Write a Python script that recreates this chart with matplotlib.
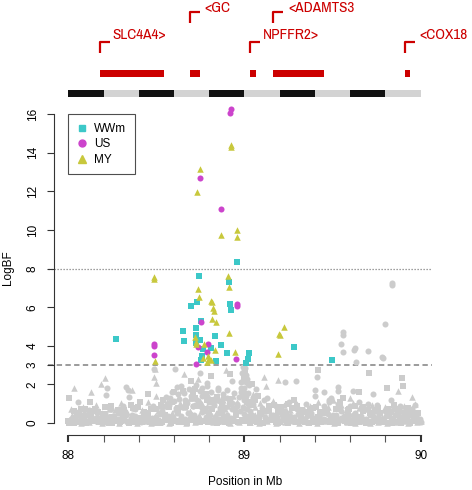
import matplotlib
matplotlib.use("Agg")
import matplotlib.pyplot as plt
from matplotlib.lines import Line2D
from matplotlib.ticker import MultipleLocator
from matplotlib import font_manager

plt.rcParams['font.family'] = ['Liberation Sans', 'DejaVu Sans']

# ---------------- data ----------------
# significant SNPs per population
wwm_x = [88.272, 88.653, 88.658, 88.696, 88.732, 88.725, 88.723, 88.751, 88.747, 88.766,
         88.751, 88.810, 88.833, 88.838, 88.865, 88.902, 88.914, 88.920, 88.923, 88.743,
         88.959, 89.009, 89.027, 89.022, 89.283, 89.495, 88.725, 88.760]
wwm_y = [4.34, 4.78, 4.26, 6.05, 6.29, 4.94, 4.56, 5.30, 4.28, 3.82,
         3.28, 3.86, 4.51, 3.21, 4.04, 3.64, 7.33, 6.15, 5.85, 7.63,
         8.33, 3.09, 3.64, 3.30, 3.95, 3.25, 4.12, 3.45]

us_x = [88.923, 88.919, 88.746, 88.867, 88.486, 88.486, 88.486, 88.727, 88.738, 88.753,
        88.791, 88.789, 88.950, 88.959, 88.960]
us_y = [16.28, 16.05, 12.68, 11.07, 4.08, 3.99, 3.54, 3.06, 3.95, 5.25,
        4.08, 3.70, 3.33, 6.17, 6.08]

my_x = [88.921, 88.923, 88.746, 88.729, 88.867, 88.959, 88.959, 88.488, 88.489, 88.905,
        88.494, 88.734, 88.743, 88.810, 88.817, 88.821, 88.827, 88.815, 88.838, 88.910,
        88.914, 88.721, 88.723, 88.725, 88.770, 88.833, 88.766, 88.795, 88.810, 88.790,
        88.948, 89.188, 89.198, 89.201, 89.224, 88.800]
my_y = [14.38, 14.28, 13.16, 11.95, 9.74, 10.00, 9.65, 7.58, 7.48, 7.63,
        3.20, 6.94, 6.54, 6.32, 6.25, 5.94, 5.82, 5.37, 5.25, 4.65,
        7.03, 4.47, 4.21, 4.09, 4.08, 3.78, 3.35, 3.47, 3.26, 3.17,
        3.66, 3.58, 4.60, 4.55, 4.99, 3.30]

# non-significant SNPs (grey): circles
gc_x = [88.01, 88.04, 88.06, 88.09, 88.11, 88.14, 88.16, 88.19, 88.21, 88.24, 88.26, 88.29,
        88.31, 88.33, 88.36, 88.38, 88.41, 88.43, 88.46, 88.48, 88.51, 88.53, 88.56, 88.58,
        88.61, 88.63, 88.66, 88.68, 88.71, 88.73, 88.76, 88.78, 88.81, 88.83, 88.86, 88.88,
        88.91, 88.93, 88.96, 88.98, 89.00, 89.01, 89.03, 89.05, 89.08, 89.10, 89.13, 89.15,
        89.18, 89.20, 89.23, 89.25, 89.28, 89.30, 89.33, 89.35, 89.38, 89.40, 89.43, 89.45,
        89.48, 89.50, 89.53, 89.55, 89.58, 89.60, 89.63, 89.65, 89.68, 89.70, 89.73, 89.75,
        89.78, 89.80, 89.83, 89.85, 89.88, 89.90, 89.93, 89.95, 89.98, 90.00,
        88.057, 88.120, 88.218, 88.212, 88.327, 88.340, 88.346, 88.488, 88.606, 88.710,
        88.747, 88.790, 88.930, 88.900, 89.065, 89.230, 89.290, 89.410, 89.532, 89.530,
        89.614, 89.784, 89.633, 89.830, 89.731, 89.970, 89.400, 89.450, 89.490, 89.797,
        89.557, 89.557, 89.548, 89.561, 89.627, 89.620, 89.699, 89.780, 89.839, 89.840,
        88.990, 89.000, 89.010, 88.990, 89.020, 89.000, 88.980, 89.010, 89.000, 89.020,
        88.620, 88.640, 88.700, 88.850, 88.580, 88.760, 89.110, 89.480, 89.700, 89.880,
        88.018, 88.041, 88.064, 88.090, 88.113, 88.137, 88.160, 88.185, 88.209, 88.233,
        88.258, 88.281, 88.306, 88.330, 88.353, 88.378, 88.401, 88.425, 88.449, 88.473,
        88.497, 88.521, 88.545, 88.568, 88.592, 88.617, 88.640, 88.664, 88.688, 88.711,
        88.736, 88.759, 88.783, 88.806, 88.831, 88.854, 88.878, 88.902, 88.925, 88.949,
        88.973, 88.997, 89.020, 89.044, 89.068, 89.091, 89.116, 89.139, 89.163, 89.187,
        89.211, 89.235, 89.259, 89.283, 89.306, 89.330, 89.354, 89.378, 89.401, 89.425,
        89.449, 89.473, 89.497, 89.521, 89.545, 89.569, 89.592, 89.617, 89.640, 89.664,
        89.688, 89.711, 89.736, 89.759, 89.783, 89.806, 89.831, 89.854, 89.878, 89.902,
        89.925, 89.949, 89.973, 89.996,
        88.555, 88.572, 88.588, 88.598, 88.615, 88.628, 88.645, 88.658, 88.672, 88.683,
        88.697, 88.708, 88.722, 88.733, 88.748, 88.757, 88.772, 88.786, 88.797, 88.812,
        88.826, 88.838, 88.851, 88.863, 88.877, 88.889, 88.903, 88.916, 88.928, 88.941,
        88.955, 88.968, 88.978, 88.986, 88.994, 89.003, 89.012, 89.018, 89.026, 88.992,
        89.006, 88.997, 89.015]
gc_y = [0.05, 0.30, 0.12, 0.45, 0.08, 0.60, 0.20, 0.35, 0.05, 0.75, 0.15, 0.50,
        0.90, 0.10, 0.40, 0.70, 0.05, 0.55, 0.25, 0.90, 0.10, 0.60, 1.00, 0.30,
        0.80, 0.15, 1.20, 0.50, 0.90, 0.20, 1.40, 0.60, 1.10, 0.30, 0.80, 1.30,
        0.20, 0.70, 1.00, 1.80, 2.40, 1.20, 0.60, 1.00, 0.25, 0.80, 1.30, 0.40,
        0.90, 0.10, 0.60, 1.10, 0.30, 0.75, 0.15, 1.00, 0.50, 1.40, 0.20, 0.90,
        1.20, 0.40, 1.00, 0.60, 0.20, 0.90, 0.50, 1.10, 0.10, 0.70, 0.35, 0.95,
        0.20, 0.60, 0.10, 0.80, 0.30, 0.55, 0.10, 0.70, 0.25, 0.05,
        1.10, 0.67, 1.80, 1.45, 1.88, 1.71, 1.36, 2.80, 2.78, 1.71,
        2.61, 2.05, 2.20, 1.30, 1.75, 2.14, 2.19, 2.40, 1.88, 1.65,
        1.67, 3.38, 3.18, 1.20, 1.49, 0.93, 1.71, 1.60, 1.30, 5.11,
        4.70, 4.57, 4.08, 3.66, 3.90, 3.80, 3.75, 3.40, 7.15, 7.24,
        2.90, 2.70, 2.50, 2.20, 2.00, 1.80, 1.60, 1.40, 1.20, 1.00,
        1.50, 1.90, 1.40, 1.70, 1.30, 1.80, 1.20, 1.10, 1.00, 0.90,
        0.22, 0.35, 0.18, 0.28, 0.40, 0.25, 0.32, 0.20, 0.45, 0.27,
        0.38, 0.21, 0.30, 0.42, 0.24, 0.36, 0.19, 0.33, 0.44, 0.26,
        0.31, 0.48, 0.23, 0.37, 0.29, 0.50, 0.34, 0.22, 0.46, 0.39,
        0.27, 0.55, 0.32, 0.41, 0.25, 0.52, 0.36, 0.44, 0.28, 0.58,
        0.62, 0.48, 0.35, 0.40, 0.26, 0.47, 0.33, 0.21, 0.39, 0.30,
        0.43, 0.24, 0.36, 0.28, 0.45, 0.20, 0.34, 0.41, 0.27, 0.38,
        0.23, 0.49, 0.31, 0.42, 0.26, 0.37, 0.22, 0.44, 0.29, 0.35,
        0.19, 0.40, 0.25, 0.33, 0.21, 0.38, 0.28, 0.43, 0.24, 0.31,
        0.20, 0.36, 0.27, 0.22,
        1.35, 0.95, 1.60, 1.15, 1.85, 1.25, 0.85, 1.55, 1.05, 1.75,
        1.40, 0.90, 1.95, 1.20, 1.65, 0.80, 1.45, 1.90, 1.10, 1.60,
        0.95, 1.35, 1.80, 1.15, 1.50, 0.85, 1.70, 1.25, 1.05, 1.55,
        0.90, 1.35, 2.10, 2.60, 1.75, 2.85, 2.30, 1.55, 1.95, 0.85,
        2.15, 1.35, 0.70]

# grey squares
gs_x = [88.00, 88.03, 88.05, 88.08, 88.10, 88.13, 88.15, 88.18, 88.20, 88.23, 88.25, 88.28,
        88.30, 88.32, 88.35, 88.37, 88.40, 88.42, 88.45, 88.47, 88.50, 88.52, 88.55, 88.57,
        88.60, 88.62, 88.65, 88.67, 88.70, 88.72, 88.75, 88.77, 88.80, 88.82, 88.85, 88.87,
        88.90, 88.92, 88.95, 88.99, 89.00, 89.02, 89.04, 89.07, 89.09, 89.12, 89.14, 89.17,
        89.19, 89.22, 89.24, 89.27, 89.29, 89.32, 89.34, 89.37, 89.39, 89.42, 89.44, 89.47,
        89.49, 89.52, 89.54, 89.57, 89.59, 89.62, 89.64, 89.67, 89.69, 89.72, 89.74, 89.77,
        89.79, 89.82, 89.84, 89.87, 89.89, 89.92, 89.94, 89.97, 89.99,
        88.005, 88.070, 88.123, 88.450, 88.407, 88.540, 88.695, 88.808, 88.918, 89.419,
        89.652, 89.708, 89.807, 89.896, 89.900, 89.192, 88.600, 88.650, 88.780, 88.720,
        89.005, 88.995, 89.015, 89.060, 89.300, 89.560, 89.930,
        88.006, 88.030, 88.052, 88.078, 88.101, 88.126, 88.149, 88.172, 88.198, 88.221,
        88.247, 88.270, 88.293, 88.318, 88.342, 88.366, 88.389, 88.414, 88.437, 88.461,
        88.486, 88.509, 88.533, 88.556, 88.581, 88.604, 88.629, 88.652, 88.676, 88.699,
        88.724, 88.747, 88.771, 88.794, 88.818, 88.843, 88.866, 88.889, 88.914, 88.937,
        88.961, 88.985, 89.008, 89.032, 89.056, 89.079, 89.104, 89.127, 89.151, 89.176,
        89.199, 89.223, 89.247, 89.270, 89.295, 89.318, 89.342, 89.366, 89.389, 89.414,
        89.437, 89.461, 89.486, 89.509, 89.533, 89.557, 89.580, 89.605, 89.628, 89.652,
        89.676, 89.699, 89.724, 89.747, 89.771, 89.794, 89.819, 89.842, 89.866, 89.889,
        89.914, 89.937, 89.961, 89.984,
        88.035, 88.095, 88.170, 88.245, 88.315, 88.395, 88.470, 88.525, 88.590, 88.625,
        88.670, 88.705, 88.735, 88.785, 88.815, 88.845, 88.870, 88.920, 88.945, 89.045,
        89.075, 89.140, 89.210, 89.245, 89.320, 89.390, 89.430, 89.520, 89.595, 89.670,
        89.740, 89.815, 89.850, 89.920, 89.985,
        88.060, 88.145, 88.210, 88.285, 88.355, 88.430, 88.500, 89.105, 89.165, 89.235,
        89.280, 89.355, 89.405, 89.465, 89.540, 89.585, 89.630, 89.710, 89.760, 89.830,
        89.875, 89.955]
gs_y = [0.10, 0.02, 0.50, 0.20, 0.05, 0.35, 0.70, 0.10, 0.45, 0.02, 0.30, 0.65,
        0.10, 0.40, 0.05, 0.80, 0.25, 0.05, 0.50, 0.15, 0.70, 0.02, 0.40, 0.85,
        0.10, 0.55, 0.05, 0.90, 0.30, 1.30, 0.10, 0.70, 0.40, 1.20, 0.05, 0.60,
        0.20, 1.00, 0.40, 0.10, 1.50, 0.30, 2.00, 0.05, 0.50, 0.15, 0.90, 0.30,
        0.02, 0.50, 0.20, 0.80, 0.05, 0.40, 0.15, 0.70, 0.05, 0.30, 0.10, 0.60,
        0.05, 0.30, 0.85, 0.10, 0.45, 0.05, 0.30, 0.60, 0.02, 0.40, 0.10, 0.50,
        0.05, 0.35, 0.02, 0.45, 0.10, 0.30, 0.02, 0.20, 0.05,
        1.28, 0.73, 1.10, 1.50, 1.10, 1.19, 2.19, 2.45, 2.52, 2.75,
        1.59, 2.61, 1.80, 2.35, 1.90, 0.55, 1.60, 1.65, 1.50, 1.75,
        2.60, 2.30, 1.10, 1.20, 0.90, 1.30, 0.80,
        0.02, 0.10, 0.04, 0.14, 0.01, 0.08, 0.12, 0.03, 0.06, 0.15,
        0.02, 0.09, 0.05, 0.13, 0.01, 0.07, 0.11, 0.03, 0.14, 0.05,
        0.02, 0.10, 0.06, 0.13, 0.01, 0.08, 0.04, 0.12, 0.02, 0.15,
        0.07, 0.03, 0.11, 0.05, 0.09, 0.01, 0.13, 0.06, 0.02, 0.10,
        0.04, 0.14, 0.08, 0.02, 0.12, 0.05, 0.01, 0.09, 0.13, 0.03,
        0.07, 0.15, 0.02, 0.10, 0.04, 0.12, 0.06, 0.01, 0.09, 0.14,
        0.03, 0.08, 0.05, 0.11, 0.02, 0.13, 0.06, 0.01, 0.10, 0.04,
        0.15, 0.07, 0.03, 0.12, 0.05, 0.09, 0.02, 0.14, 0.06, 0.01,
        0.11, 0.04, 0.08, 0.03,
        0.60, 0.75, 0.55, 0.90, 0.65, 0.85, 0.70, 0.95, 1.10, 0.80,
        1.05, 1.45, 0.90, 1.20, 0.75, 1.35, 0.95, 1.25, 0.70, 0.95,
        1.40, 0.60, 0.85, 1.00, 0.65, 0.80, 0.55, 0.75, 0.70, 0.85,
        0.60, 0.70, 0.95, 0.60, 0.50,
        0.45, 0.60, 0.85, 0.50, 0.95, 0.55, 0.75, 0.60, 0.95, 0.45,
        1.20, 0.55, 0.85, 0.50, 1.10, 0.65, 0.90, 0.50, 0.80, 0.55,
        0.70, 0.45]

# grey triangles
gt_x = [88.02, 88.04, 88.07, 88.09, 88.12, 88.14, 88.17, 88.19, 88.22, 88.24, 88.27, 88.29,
        88.32, 88.34, 88.37, 88.39, 88.42, 88.44, 88.47, 88.49, 88.52, 88.54, 88.57, 88.59,
        88.62, 88.64, 88.67, 88.69, 88.72, 88.74, 88.77, 88.79, 88.82, 88.84, 88.87, 88.89,
        88.92, 88.94, 88.97, 89.00, 89.01, 89.03, 89.06, 89.08, 89.11, 89.13, 89.16, 89.18,
        89.21, 89.23, 89.26, 89.28, 89.31, 89.33, 89.36, 89.38, 89.41, 89.43, 89.46, 89.48,
        89.51, 89.53, 89.56, 89.58, 89.61, 89.63, 89.66, 89.68, 89.71, 89.73, 89.76, 89.78,
        89.81, 89.83, 89.86, 89.88, 89.91, 89.93, 89.96, 89.98, 90.00,
        88.030, 88.020, 88.127, 88.208, 88.186, 88.360, 88.488, 88.498, 88.496, 88.657,
        88.738, 88.895, 89.112, 89.188, 89.120, 89.870, 89.950, 88.490, 88.560, 88.700,
        88.760, 88.840, 89.050, 89.600, 89.950, 88.520,
        88.015, 88.050, 88.085, 88.110, 88.155, 88.190, 88.230, 88.265, 88.300, 88.335,
        88.375, 88.420, 88.455, 88.510, 88.545, 88.575, 88.605, 88.635, 88.660, 88.690,
        88.715, 88.745, 88.770, 88.800, 88.825, 88.855, 88.880, 88.905, 88.935, 88.960,
        89.035, 89.060, 89.090, 89.125, 89.160, 89.195, 89.225, 89.260, 89.300, 89.340,
        89.370, 89.415, 89.445, 89.475, 89.505, 89.545, 89.575, 89.615, 89.650, 89.690,
        89.725, 89.760, 89.795, 89.835, 89.865, 89.905, 89.935, 89.965]
gt_y = [0.05, 0.25, 0.02, 0.20, 0.05, 0.30, 0.10, 0.02, 0.40, 0.05, 0.20, 0.02,
        0.60, 0.10, 0.30, 0.02, 0.45, 0.10, 0.02, 0.35, 0.05, 0.20, 0.02, 0.50,
        0.10, 0.30, 0.02, 0.60, 0.05, 0.40, 0.15, 0.90, 0.05, 0.50, 0.10, 0.70,
        0.02, 0.30, 0.05, 0.80, 0.30, 0.05, 0.40, 0.02, 0.60, 0.10, 0.30, 0.02,
        0.20, 0.05, 0.45, 0.10, 0.02, 0.30, 0.05, 0.20, 0.02, 0.50, 0.10, 0.30,
        0.02, 0.15, 0.40, 0.05, 0.20, 0.02, 0.35, 0.10, 0.02, 0.25, 0.05, 0.30,
        0.02, 0.20, 0.05, 0.40, 0.10, 0.02, 0.30, 0.05, 0.10,
        1.80, 0.41, 1.62, 2.35, 2.00, 1.70, 2.38, 2.06, 1.41, 2.54,
        2.26, 2.75, 2.40, 2.23, 1.90, 1.65, 1.36, 2.80, 1.10, 1.30,
        1.00, 1.20, 1.50, 1.30, 0.80, 0.90,
        0.70, 0.55, 0.85, 0.60, 0.95, 0.50, 0.75, 0.65, 1.05, 0.58,
        0.80, 0.68, 1.10, 0.62, 0.90, 1.25, 0.72, 1.05, 0.85, 1.30,
        0.95, 1.15, 0.80, 1.35, 1.00, 0.75, 1.20, 0.90, 1.40, 1.10,
        1.25, 0.85, 1.05, 0.70, 1.15, 0.80, 0.95, 0.65, 1.00, 0.75,
        0.90, 1.10, 0.70, 0.85, 1.20, 0.95, 0.65, 1.05, 0.80, 0.70,
        0.95, 0.60, 0.85, 0.75, 0.55, 0.90, 0.65, 1.00]

# genes
gene_names = ["SLC4A4>", "<GC", "NPFFR2>", "<ADAMTS3", "<COX18"]
gene_start = [88.18, 88.69, 89.033, 89.163, 89.91]
gene_end = [88.545, 88.75, 89.065, 89.453, 89.94]
gene_row = [0, 1, 0, 1, 0]

band_start = [88.0, 88.2, 88.4, 88.6, 88.8, 89.0, 89.2, 89.4, 89.6, 89.8]
band_end = [88.2, 88.4, 88.6, 88.8, 89.0, 89.2, 89.4, 89.6, 89.8, 90.0]
band_color = ["#111111", "#d3d3d3"] * 5

thresholds = [3, 8]
y_ticks = [0, 2, 3, 4, 6, 8, 10, 12, 14, 16]
x_major = [88, 89, 90]

# ---------------- condensed font lookup ----------------
narrow_family = None
narrow_stretch = "normal"
for f in font_manager.fontManager.ttflist:
    nm = f.name
    st = str(f.stretch)
    if ("Narrow" in nm or "Condensed" in nm) and f.weight in (400, "normal", "regular") and f.style == "normal":
        narrow_family = nm
        narrow_stretch = st
        break
if narrow_family is None:
    for f in font_manager.fontManager.ttflist:
        if str(f.stretch) in ("condensed", "semi-condensed", "extra-condensed") and f.style == "normal":
            narrow_family = f.name
            narrow_stretch = str(f.stretch)
            break

# ---------------- figure ----------------
W, H = 472, 490
fig = plt.figure(figsize=(W / 100, H / 100), dpi=100)

def px_rect(l, t, r, b):
    return [l / W, 1 - b / H, (r - l) / W, (b - t) / H]

xlim = (87.883, 90.066)
ax = fig.add_axes(px_rect(47.7, 96.8, 432.3, 434.7))
ax.set_xlim(*xlim)
ax.set_ylim(-0.606, 16.9)

grey = "#cccccc"
ms = 19
ax.scatter(gc_x, gc_y, marker="o", s=ms, c=grey, linewidths=0, zorder=2)
ax.scatter(gs_x, gs_y, marker="s", s=ms * 0.85, c=grey, linewidths=0, zorder=2)
ax.scatter(gt_x, gt_y, marker="^", s=ms * 1.15, c=grey, linewidths=0, zorder=2)

c_wwm, c_us, c_my = "#3cc8c8", "#cc44cc", "#c8c83c"
ax.scatter(wwm_x, wwm_y, marker="s", s=ms * 0.85, c=c_wwm, linewidths=0, zorder=3)
ax.scatter(us_x, us_y, marker="o", s=ms, c=c_us, linewidths=0, zorder=4)
ax.scatter(my_x, my_y, marker="^", s=ms * 1.15, c=c_my, linewidths=0, zorder=5)

ax.axhline(thresholds[0], color="#808080", lw=1.1, linestyle=(0, (3.5, 2.2)), zorder=1)
ax.axhline(thresholds[1], color="#808080", lw=0.9, linestyle=(0, (1, 1.4)), zorder=1)

for s in ["top", "right"]:
    ax.spines[s].set_visible(False)
ax.spines["left"].set_position(("data", 87.919))
ax.spines["left"].set_bounds(0, 16)
ax.spines["bottom"].set_bounds(88, 90)
for s in ["left", "bottom"]:
    ax.spines[s].set_color("#333333")
    ax.spines[s].set_linewidth(0.8)

ax.set_yticks(y_ticks)
ax.set_yticklabels([str(v) for v in y_ticks], rotation=90, va="center")
ax.set_xticks(x_major)
ax.set_xticklabels([str(v) for v in x_major])
ax.xaxis.set_minor_locator(MultipleLocator(0.2))
ax.tick_params(axis="y", length=5, width=0.8, pad=6, labelsize=8.5, colors="#333333", labelcolor="black")
ax.tick_params(axis="x", which="major", length=5, width=1.5, pad=6, labelsize=8.5, colors="#333333", labelcolor="black")
ax.tick_params(axis="x", which="minor", length=5, width=0.8, colors="#555555")

ax.set_xlabel("Position in Mb", fontsize=8.5)
ax.xaxis.set_label_coords(0.513, -0.141)
ax.xaxis.label.set_va("center")
ax.set_ylabel("LogBF", fontsize=8.5)
ax.yaxis.set_label_coords(-0.103, 0.493)
ax.yaxis.label.set_va("center")

handles = [
    Line2D([], [], marker="s", color=c_wwm, linestyle="none", markersize=4.5),
    Line2D([], [], marker="o", color=c_us, linestyle="none", markersize=5),
    Line2D([], [], marker="^", color=c_my, linestyle="none", markersize=5.5),
]
leg = ax.legend(handles, ["WWm", "US", "MY"], loc="upper left",
                bbox_to_anchor=(0.0536, 0.948), borderaxespad=0, fontsize=8.5,
                frameon=True, fancybox=False, handlelength=0.9, handletextpad=0.6,
                borderpad=0.7, labelspacing=0.3)
leg.get_frame().set_edgecolor("#222222")
leg.get_frame().set_linewidth(0.8)

# ---------------- gene track ----------------
gx = fig.add_axes(px_rect(47.7, 0, 432.3, 100))
gx.set_xlim(*xlim)
gx.set_ylim(100, 0)
gx.axis("off")

red = "#cc0000"
for s0, s1, c in zip(band_start, band_end, band_color):
    gx.fill_between([s0, s1], 90, 97, color=c, linewidth=0)

if narrow_family is not None:
    lab_kw = dict(family=[narrow_family, 'DejaVu Sans'], fontstretch=narrow_stretch, fontsize=11)
else:
    lab_kw = dict(family=['DejaVu Sans'], fontsize=8.3)

for name, s0, s1, row in zip(gene_names, gene_start, gene_end, gene_row):
    gx.fill_between([s0, s1], 70, 77.5, color=red, linewidth=0)
    top = 42 if row == 0 else 12.3
    gx.plot([s0, s0, s0 + 0.057], [top + 11, top, top], color=red, lw=1.6,
            solid_capstyle="butt", clip_on=False)
    off = 0.085 if name.startswith("<") else 0.072
    ty = 35 if row == 0 else 8.5
    gx.text(s0 + off, ty, name, color=red, ha="left", va="center", clip_on=False, **lab_kw)

fig.savefig("out.png", dpi=100)
